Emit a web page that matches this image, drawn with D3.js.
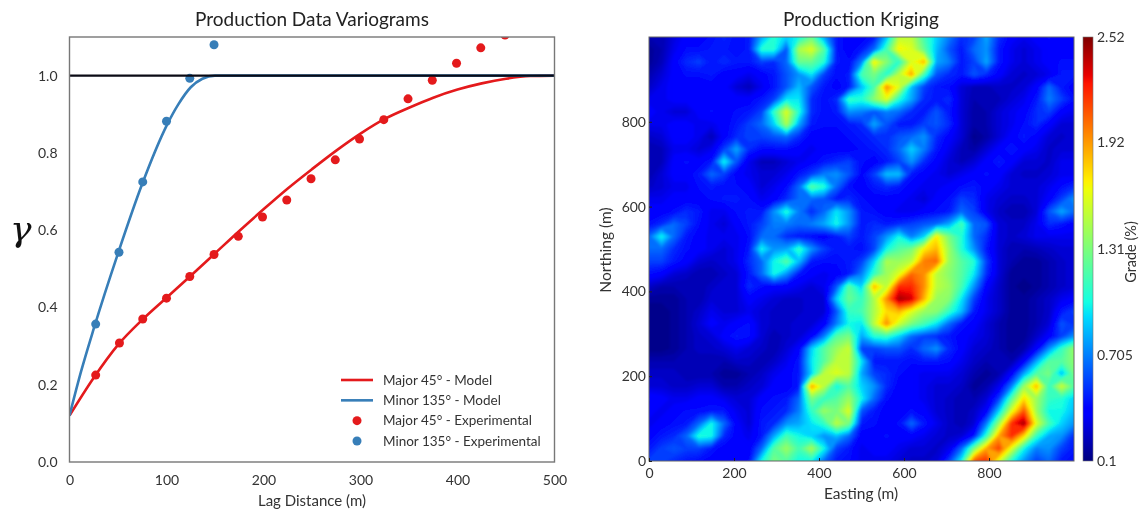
<!DOCTYPE html>
<html>
<head>
<meta charset="utf-8">
<script src="https://cdnjs.cloudflare.com/ajax/libs/d3/7.8.5/d3.min.js"></script>
<style>
  html, body { margin: 0; padding: 0; background: #fff; overflow: hidden; }
  svg { display: block; filter: blur(0.55px); }
  text { font-family: Lato, "Open Sans", sans-serif; fill: #333; }
  .axis path, .axis line { display: none; }
  .ticks-in .tick line { display: block; stroke: #222; }
</style>
</head>
<body>
<div id="chart"></div>
<script>
// Variogram model lines
const majorModelLag = [0, 25, 50, 75, 100, 125, 150, 175, 200, 225, 250, 275, 300, 325, 350, 375, 400, 425, 450, 475, 500]
const majorModelGamma = [0.12, 0.218, 0.303, 0.368, 0.425, 0.482, 0.54, 0.598, 0.654, 0.708, 0.758, 0.806, 0.85, 0.888, 0.917, 0.943, 0.964, 0.98, 0.992, 0.999, 1]
const minorModelLag = [0, 12, 25, 50, 75, 100, 112, 125, 137, 150, 500]
const minorModelGamma = [0.12, 0.235, 0.345, 0.54, 0.72, 0.87, 0.925, 0.97, 0.992, 1, 1]

// Experimental points
const majorExpLag = [27, 51.5, 75.5, 100, 124, 149, 174, 199, 224, 249, 274, 299, 324, 349, 374, 399, 424, 449]
const majorExpGamma = [0.225, 0.308, 0.37, 0.424, 0.48, 0.537, 0.584, 0.634, 0.678, 0.733, 0.782, 0.836, 0.886, 0.94, 0.988, 1.032, 1.072, 1.105]
const minorExpLag = [27, 51, 75.5, 100, 124, 149]
const minorExpGamma = [0.357, 0.543, 0.725, 0.882, 0.993, 1.08]

const sill = [1]
const lagTicks = [0, 100, 200, 300, 400, 500]
const gammaTicks = [0, 0.2, 0.4, 0.6, 0.8, 1]
const legendLabels = ['Major 45° - Model', 'Minor 135° - Model', 'Major 45° - Experimental', 'Minor 135° - Experimental']

// Kriged grade, north row first, every 1/34 of the 1000 m side
const gradeRows = [
  [.2,.2,.3,.38,.38,.42,.48,.42,.45,.8,1.05,.9,1,1.25,.8,.45,.38,.38,.45,.85,1.5,1.5,1.15,.9,.7,.5,.55,.8,.5,.38,.33,.38,.42,.38,.38],
  [.15,.2,.33,.42,.42,.45,.45,.42,.45,1.05,1.05,.6,1.45,1.6,1.2,.45,.38,.45,.65,1.15,1.7,1.6,1.25,.85,.6,.45,.65,.75,.45,.33,.28,.33,.38,.38,.38],
  [.15,.22,.38,.5,.55,.45,.5,.45,.45,.55,.5,.65,1.25,1.25,1.05,.45,.42,.7,1.7,1.35,1.05,1.6,1.85,.8,.7,.45,.55,.8,.45,.33,.28,.33,.38,.42,.42],
  [.2,.28,.38,.42,.42,.45,.38,.38,.33,.38,.45,.6,.75,.95,.55,.42,.45,1.15,1.3,1.05,1.5,1.9,1.15,.6,.5,.45,.6,.5,.38,.28,.25,.28,.33,.45,.45],
  [.25,.33,.38,.38,.38,.38,.38,.28,.22,.33,.45,.6,.85,.6,.45,.38,.45,.85,1.15,1.95,1.6,.85,.55,.45,.42,.28,.22,.22,.25,.25,.28,.38,.65,.45,.38],
  [.33,.33,.38,.38,.38,.38,.38,.38,.38,.45,.55,.95,.95,.5,.42,.5,1.1,1.05,1.35,1.6,1.05,.8,.5,.45,.5,.28,.2,.2,.22,.28,.33,.45,.7,.55,.42],
  [.38,.33,.28,.28,.38,.42,.38,.42,.45,.55,1.1,1.6,1.05,.5,.42,.45,.75,.7,.6,.7,.65,.5,.45,.6,.45,.28,.18,.2,.28,.33,.38,.5,.55,.38,.33],
  [.33,.33,.38,.38,.33,.33,.38,.45,.55,.65,.9,1.45,.8,.45,.42,.42,.45,.5,.8,.6,.45,.45,.55,.6,.5,.28,.18,.2,.28,.33,.42,.5,.38,.28,.28],
  [.25,.28,.38,.38,.33,.22,.38,.5,.55,.55,.6,.65,.5,.38,.38,.38,.42,.45,.5,.5,.6,.65,.75,.5,.38,.28,.13,.18,.28,.38,.45,.38,.28,.25,.28],
  [.2,.22,.33,.33,.28,.33,.55,.8,.5,.42,.42,.42,.38,.33,.38,.38,.38,.42,.45,.5,.65,.9,.7,.45,.33,.22,.18,.28,.38,.45,.38,.33,.25,.28,.28],
  [.2,.22,.38,.42,.38,.45,1,.6,.33,.22,.22,.28,.33,.38,.45,.5,.55,.42,.38,.45,.55,.75,.5,.38,.28,.22,.28,.38,.45,.38,.28,.28,.25,.33,.33],
  [.2,.28,.38,.38,.45,.65,.55,.38,.33,.28,.28,.33,.45,.55,.7,.75,.6,.4,.55,.85,.85,.45,.38,.33,.28,.33,.38,.42,.38,.28,.25,.25,.28,.33,.33],
  [.25,.28,.33,.33,.42,.45,.42,.42,.38,.28,.33,.42,.65,1.2,1.05,.65,.42,.38,.45,.5,.45,.38,.33,.33,.38,.42,.45,.38,.33,.28,.28,.28,.33,.42,.5],
  [.33,.33,.38,.38,.38,.42,.45,.45,.42,.33,.38,.5,.65,.65,.6,.45,.5,.42,.38,.38,.38,.33,.28,.38,.42,.55,.5,.33,.28,.25,.25,.28,.38,.55,.75],
  [.38,.38,.42,.5,.45,.33,.33,.42,.45,.45,.75,1.05,.7,.5,.65,.95,.75,.45,.42,.38,.33,.33,.38,.42,.45,.65,.55,.33,.25,.2,.2,.28,.6,.8,.65],
  [.42,.5,.65,.55,.42,.33,.28,.38,.45,.55,.7,.7,.65,.7,.8,1,.75,.45,.5,.45,.5,.55,.6,.65,.8,1.15,.65,.6,.28,.25,.25,.33,.5,.45,.38],
  [.65,1,.65,.45,.38,.33,.33,.33,.42,.65,.65,.5,.45,.42,.38,.45,.55,.45,.55,.75,1,.7,.9,1.7,1.3,1.05,.65,.5,.28,.25,.28,.33,.33,.33,.33],
  [.65,.65,.5,.42,.38,.33,.28,.33,.45,1,.75,.8,1.1,.75,.55,.45,.45,.42,.55,1,1.2,1.3,1.7,1.85,1.4,1.05,.75,.45,.28,.2,.2,.22,.25,.28,.28],
  [.55,.55,.45,.38,.28,.25,.28,.33,.5,.65,1,1.2,.85,.45,.42,.42,.45,.55,.9,1.45,1.4,1.5,2,2.05,1.4,1.2,1.05,.55,.28,.2,.15,.15,.2,.25,.28],
  [.42,.38,.28,.25,.2,.2,.25,.28,.45,.65,1,.75,.45,.38,.33,.38,.45,.7,1.1,1.4,1.6,2.05,1.95,1.5,1.35,1.2,.95,.5,.28,.15,.15,.15,.2,.25,.28],
  [.25,.2,.2,.2,.2,.25,.28,.28,.5,.42,.38,.38,.33,.28,.33,.6,1.2,.9,1.85,1.5,2.2,2.2,1.95,1.5,1.4,1.15,.75,.38,.25,.15,.12,.15,.2,.25,.28],
  [.15,.15,.15,.2,.2,.28,.28,.28,.38,.33,.28,.25,.25,.28,.28,.9,1.25,1.1,1.45,1.95,2.45,2.35,1.85,1.4,1.35,.95,.55,.33,.25,.15,.15,.2,.25,.33,.38],
  [.12,.12,.15,.2,.25,.33,.28,.28,.33,.28,.25,.25,.25,.28,.28,.6,1.1,1.15,1.45,1.75,1.85,1.6,1.4,1.35,1.1,.85,.45,.33,.25,.15,.15,.2,.25,.45,.55],
  [.12,.12,.15,.2,.28,.38,.33,.38,.42,.28,.25,.25,.28,.28,.38,.7,1,.95,1.5,1.95,1.55,1.3,1.15,.95,.65,.45,.38,.28,.2,.15,.15,.2,.28,.6,.5],
  [.12,.12,.15,.2,.25,.28,.38,.45,.42,.28,.2,.25,.28,.38,.7,1.2,1.3,.8,1.05,1.1,.9,.65,.55,.5,.45,.38,.33,.28,.2,.15,.15,.25,.38,.55,.75],
  [.12,.12,.15,.2,.25,.25,.28,.33,.28,.25,.2,.28,.38,.9,1.2,1.4,1.55,.55,.55,.6,.6,.5,.65,.75,.5,.38,.28,.25,.2,.15,.2,.38,.75,1.1,1.4],
  [.2,.2,.2,.2,.2,.2,.2,.25,.25,.2,.25,.33,.45,.95,1.2,1.5,1.5,.95,.45,.45,.45,.42,.45,.45,.42,.33,.25,.2,.2,.2,.38,.8,1.2,1.2,1.35],
  [.25,.25,.25,.2,.2,.2,.15,.15,.2,.25,.33,.38,.45,.9,1.5,1.6,1.5,.8,.55,.5,.42,.38,.33,.33,.33,.28,.2,.15,.2,.38,.8,1.2,1.3,.85,1.3],
  [.28,.28,.25,.25,.28,.28,.2,.2,.25,.28,.38,.38,.45,1.9,1.5,1,1.2,.9,.75,.5,.38,.38,.33,.28,.28,.25,.15,.2,.33,.7,1.4,1.85,1.1,1.55,1.2],
  [.42,.38,.33,.33,.38,.38,.33,.28,.28,.38,.42,.45,.65,1.3,1.1,1.2,1.4,1,.65,.42,.38,.38,.33,.28,.25,.2,.2,.28,.55,1.2,1.75,1.4,1.1,1.05,.9],
  [.38,.33,.38,.42,.42,.45,.45,.33,.28,.42,.45,.5,.7,1.1,1.4,1.3,1.6,.6,.45,.38,.38,.42,.38,.28,.25,.2,.25,.38,.9,1.6,2.1,1.4,1,1,.85],
  [.33,.38,.42,.45,.65,1,.65,.38,.28,.45,.5,.75,.8,.95,1.1,1.5,1.3,.45,.42,.38,.42,.65,.45,.33,.25,.2,.28,.7,1.4,2.2,2.45,1.6,1.15,.9,.75],
  [.38,.45,.5,.65,1.05,1,.5,.38,.33,.45,.8,1.15,1,.9,.75,.85,.65,.38,.38,.42,.38,.38,.33,.28,.25,.28,.45,1.1,1.9,2.2,1.75,1.1,.8,.75,.5],
  [.45,.55,.6,.55,.55,.45,.38,.38,.38,.65,1.2,1.4,1.15,1.45,1,.55,.45,.33,.38,.38,.33,.28,.28,.25,.33,.65,1.3,1.9,2.15,1.6,1,.7,.75,.55,.45],
  [.55,.55,.5,.45,.42,.38,.38,.38,.42,1,1.3,1.2,1,1,.65,.45,.42,.33,.33,.33,.28,.25,.25,.28,.55,1,2.1,2.2,1.6,1.05,.75,.55,.65,.45,.42]
]

const mapTicks = [0, 200, 400, 600, 800]
const gradeTicks = [0.1, 0.705, 1.31, 1.92, 2.52]
const gradeTickLabels = ['0.1', '0.705', '1.31', '1.92', '2.52']

// Jet colour stops, position along the colour bar
const jetStops = [0, 0.11, 0.125, 0.34, 0.375, 0.5, 0.64, 0.66, 0.89, 0.91, 1]
const jetColors = ['#00007f', '#0000ff', '#0000ff', '#00dbff', '#14ffe3', '#7bff7b', '#eeff08', '#fff100', '#ff1400', '#e80000', '#7f0000']

;(function () {
  const width = 1140
  const height = 509

  const svg = d3.select('#chart').append('svg')
    .attr('width', width)
    .attr('height', height)

  const defs = svg.append('defs')

  drawVariograms(svg, { left: 69.5, right: 554.5, top: 37, bottom: 462 })
  drawMap(svg, defs, { left: 649, right: 1074, top: 37, bottom: 461 })
}())

function translation (x, y) {
  return 'translate(' + x + ',' + y + ')'
}

/** * --------------------------------------------- ***/
/** * ---------------- Left panel ----------------- ***/
/** * --------------------------------------------- ***/

function drawVariograms (svg, box) {
  const red = '#e41a1c'
  const blue = '#377eb8'

  const x = d3.scaleLinear().domain([0, 500]).range([box.left, box.right])
  const y = d3.scaleLinear().domain([0, 1.1]).range([box.bottom, box.top])

  const line = d3.line()
    .x(d => x(d[0]))
    .y(d => y(d[1]))
    .curve(d3.curveMonotoneX)

  svg.select('defs').append('clipPath').attr('id', 'clip-vario')
    .append('rect')
    .attr('x', box.left)
    .attr('y', box.top)
    .attr('width', box.right - box.left)
    .attr('height', box.bottom - box.top)

  const plot = svg.append('g').attr('clip-path', 'url(#clip-vario)')

  plot.append('path')
    .datum(d3.zip(majorModelLag, majorModelGamma))
    .attr('d', line)
    .attr('fill', 'none')
    .attr('stroke', red)
    .attr('stroke-width', 2.6)

  plot.append('path')
    .datum(d3.zip(minorModelLag, minorModelGamma))
    .attr('d', line)
    .attr('fill', 'none')
    .attr('stroke', blue)
    .attr('stroke-width', 2.6)

  plot.selectAll('.major-exp')
    .data(d3.zip(majorExpLag, majorExpGamma))
    .enter().append('circle')
    .attr('class', 'major-exp')
    .attr('cx', d => x(d[0]))
    .attr('cy', d => y(d[1]))
    .attr('r', 4.5)
    .attr('fill', red)

  plot.selectAll('.minor-exp')
    .data(d3.zip(minorExpLag, minorExpGamma))
    .enter().append('circle')
    .attr('class', 'minor-exp')
    .attr('cx', d => x(d[0]))
    .attr('cy', d => y(d[1]))
    .attr('r', 4.5)
    .attr('fill', blue)

  plot.selectAll('.sill')
    .data(sill)
    .enter().append('line')
    .attr('class', 'sill')
    .attr('x1', box.left)
    .attr('x2', box.right)
    .attr('y1', d => y(d))
    .attr('y2', d => y(d))
    .attr('stroke', '#0a0a14')
    .attr('stroke-width', 2.2)

  // Frame
  svg.append('rect')
    .attr('x', box.left)
    .attr('y', box.top)
    .attr('width', box.right - box.left)
    .attr('height', box.bottom - box.top)
    .attr('fill', 'none')
    .attr('stroke', '#777')
    .attr('stroke-width', 1.4)

  // Axes
  const xAxis = svg.append('g')
    .attr('class', 'axis')
    .attr('transform', translation(0, box.bottom))
    .call(d3.axisBottom(x).tickValues(lagTicks).tickSize(0).tickPadding(13))
  xAxis.selectAll('text').style('font-size', '14px').attr('fill', null)

  const yAxis = svg.append('g')
    .attr('class', 'axis')
    .attr('transform', translation(box.left, 0))
    .call(d3.axisLeft(y).tickValues(gammaTicks).tickFormat(d3.format('.1f')).tickSize(0).tickPadding(12))
  yAxis.selectAll('text').style('font-size', '14px').attr('fill', null)

  svg.append('text')
    .attr('x', 312)
    .attr('y', 26)
    .attr('text-anchor', 'middle')
    .style('font-size', '19px')
    .style('fill', '#222')
    .text('Production Data Variograms')

  svg.append('text')
    .attr('x', 312)
    .attr('y', 506)
    .attr('text-anchor', 'middle')
    .style('font-size', '15px')
    .text('Lag Distance (m)')

  svg.append('text')
    .attr('x', 10)
    .attr('y', 241)
    .style('font-family', '"DejaVu Serif", serif')
    .style('font-style', 'italic')
    .style('font-size', '36px')
    .style('fill', '#111')
    .text('γ')

  // Legend
  const legendY = d3.scalePoint().domain(legendLabels).range([380, 441])
  const legend = svg.append('g')

  legend.selectAll('line')
    .data(legendLabels.slice(0, 2))
    .enter().append('line')
    .attr('x1', 341)
    .attr('x2', 373)
    .attr('y1', d => legendY(d))
    .attr('y2', d => legendY(d))
    .attr('stroke', (d, i) => i === 0 ? red : blue)
    .attr('stroke-width', 2.6)

  legend.selectAll('circle')
    .data(legendLabels.slice(2))
    .enter().append('circle')
    .attr('cx', 357)
    .attr('cy', d => legendY(d))
    .attr('r', 4.5)
    .attr('fill', (d, i) => i === 0 ? red : blue)

  legend.selectAll('text')
    .data(legendLabels)
    .enter().append('text')
    .attr('x', 383)
    .attr('y', d => legendY(d))
    .attr('dy', '0.35em')
    .style('font-size', '13.5px')
    .text(d => d)
}

/** * --------------------------------------------- ***/
/** * ---------------- Right panel ---------------- ***/
/** * --------------------------------------------- ***/

function drawMap (svg, defs, box) {
  const nRows = gradeRows.length
  const nCols = gradeRows[0].length

  const x = d3.scaleLinear().domain([0, 1000]).range([box.left, box.right])
  const y = d3.scaleLinear().domain([0, 1000]).range([box.bottom, box.top])

  // d3.contours puts grid values at cell centres, so 0.5 maps onto the frame
  const gridX = d3.scaleLinear().domain([0.5, nCols - 0.5]).range([box.left, box.right])
  const gridY = d3.scaleLinear().domain([0.5, nRows - 0.5]).range([box.top, box.bottom])

  const color = d3.scaleLinear()
    .domain(jetStops.map(d => 0.1 + d * 2.42))
    .range(jetColors)
    .clamp(true)

  const thresholds = d3.range(0.08, 2.52, 0.03)
  const contours = d3.contours()
    .size([nCols, nRows])
    .thresholds(thresholds)(gradeRows.flat())

  const projection = d3.geoTransform({
    point: function (px, py) { this.stream.point(gridX(px), gridY(py)) }
  })
  const path = d3.geoPath(projection)

  defs.append('clipPath').attr('id', 'clip-map')
    .append('rect')
    .attr('x', box.left)
    .attr('y', box.top)
    .attr('width', box.right - box.left)
    .attr('height', box.bottom - box.top)

  defs.append('filter').attr('id', 'soften')
    .attr('x', '-5%').attr('y', '-5%').attr('width', '110%').attr('height', '110%')
    .append('feGaussianBlur')
    .attr('stdDeviation', 1.3)

  svg.append('g')
    .attr('clip-path', 'url(#clip-map)')
    .append('g')
    .attr('filter', 'url(#soften)')
    .selectAll('path')
    .data(contours)
    .enter().append('path')
    .attr('d', path)
    .attr('fill', d => color(d.value + 0.015))

  svg.append('rect')
    .attr('x', box.left)
    .attr('y', box.top)
    .attr('width', box.right - box.left)
    .attr('height', box.bottom - box.top)
    .attr('fill', 'none')
    .attr('stroke', '#666')
    .attr('stroke-width', 1)

  const xAxis = svg.append('g')
    .attr('class', 'axis ticks-in')
    .attr('transform', translation(0, box.bottom))
    .call(d3.axisBottom(x).tickValues(mapTicks).tickSize(-3).tickPadding(7))
  xAxis.selectAll('text').style('font-size', '14px').attr('fill', null)

  const yAxis = svg.append('g')
    .attr('class', 'axis ticks-in')
    .attr('transform', translation(box.left, 0))
    .call(d3.axisLeft(y).tickValues(mapTicks).tickSize(-3).tickPadding(3))
  yAxis.selectAll('text').style('font-size', '14px').attr('fill', null)

  svg.append('text')
    .attr('x', 861)
    .attr('y', 26)
    .attr('text-anchor', 'middle')
    .style('font-size', '19px')
    .style('fill', '#222')
    .text('Production Kriging')

  svg.append('text')
    .attr('x', 861)
    .attr('y', 499)
    .attr('text-anchor', 'middle')
    .style('font-size', '15.5px')
    .text('Easting (m)')

  svg.append('text')
    .attr('transform', translation(611, 250) + 'rotate(-90)')
    .attr('text-anchor', 'middle')
    .style('font-size', '15.5px')
    .text('Northing (m)')

  // Colour bar
  const barLeft = 1083
  const barWidth = 10
  const barScale = d3.scaleLinear().domain([0.1, 2.52]).range([box.bottom, box.top])

  const gradient = defs.append('linearGradient')
    .attr('id', 'jet-bar')
    .attr('x1', 0).attr('x2', 0).attr('y1', 1).attr('y2', 0)
  gradient.selectAll('stop')
    .data(jetStops)
    .enter().append('stop')
    .attr('offset', d => d)
    .attr('stop-color', (d, i) => jetColors[i])

  svg.append('rect')
    .attr('x', barLeft)
    .attr('y', box.top)
    .attr('width', barWidth)
    .attr('height', box.bottom - box.top)
    .attr('fill', 'url(#jet-bar)')
    .attr('stroke', '#777')
    .attr('stroke-width', 0.6)

  const barAxis = svg.append('g')
    .attr('class', 'axis')
    .attr('transform', translation(barLeft + barWidth, 0))
    .call(d3.axisRight(barScale).tickValues(gradeTicks)
      .tickFormat((d, i) => gradeTickLabels[i]).tickSize(0).tickPadding(4))
  barAxis.selectAll('text').style('font-size', '14px').attr('fill', null)

  svg.append('text')
    .attr('transform', translation(1136, 252) + 'rotate(-90)')
    .attr('text-anchor', 'middle')
    .style('font-size', '14.5px')
    .text('Grade (%)')
}
</script>
</body>
</html>
